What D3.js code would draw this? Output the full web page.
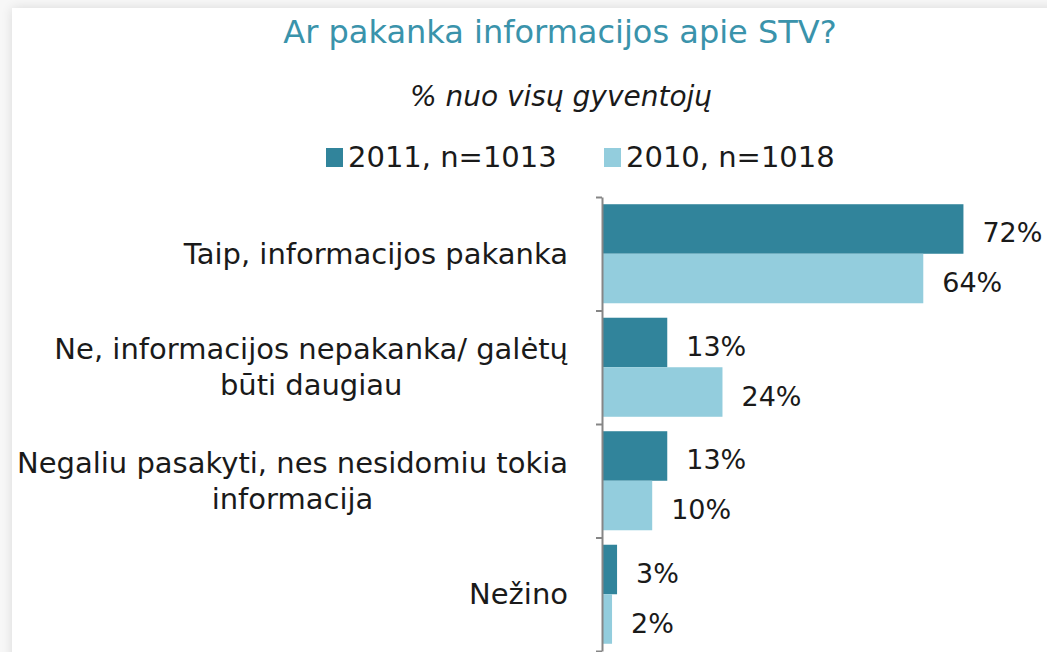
<!DOCTYPE html>
<html>
<head>
<meta charset="utf-8">
<title>Ar pakanka informacijos apie STV?</title>
<script src="https://d3js.org/d3.v7.min.js"></script>
<style>
  html, body { margin: 0; padding: 0; background: #fff; }
  svg { display: block; }
  text { font-family: "DejaVu Sans", sans-serif; fill: #1a1a1a; }
</style>
</head>
<body>
<svg id="chart"></svg>
<script>
// data
var categories = [
  ["Taip, informacijos pakanka"],
  ["Ne, informacijos nepakanka/ galėtų", "būti daugiau"],
  ["Negaliu pasakyti, nes nesidomiu tokia", "informacija"],
  ["Nežino"]
];
var seriesNames = ["2011, n=1013", "2010, n=1018"];
var values2011 = [72, 13, 13, 3];
var values2010 = [64, 24, 10, 2];
var colors = ["#31849b", "#93cddd"];

var W = 1047, H = 652;
var svg = d3.select('#chart').attr('width', W).attr('height', H);

// page shadow behind the white panel
var defs = svg.append('defs');
var f = defs.append('filter').attr('id', 'shadow').attr('x', '-5%').attr('y', '-5%').attr('width', '110%').attr('height', '110%');
f.append('feGaussianBlur').attr('in', 'SourceAlpha').attr('stdDeviation', 6);
f.append('feComponentTransfer').append('feFuncA').attr('type', 'linear').attr('slope', 0.12);
var fm = f.append('feMerge');
fm.append('feMergeNode');
fm.append('feMergeNode').attr('in', 'SourceGraphic');

svg.append('rect').attr('width', W).attr('height', H).attr('fill', '#f7f7f7');
svg.append('rect').attr('x', 12).attr('y', 8).attr('width', W + 40).attr('height', H + 40)
  .attr('fill', '#fff').attr('filter', 'url(#shadow)');

// titles
svg.append('text').attr('x', 560).attr('y', 43).attr('text-anchor', 'middle')
  .style('font-size', '32px').style('fill', '#3a93ab')
  .text('Ar pakanka informacijos apie STV?');
svg.append('text').attr('x', 561).attr('y', 106).attr('text-anchor', 'middle')
  .style('font-size', '28px').style('font-style', 'italic')
  .text('% nuo visų gyventojų');

// legend
var legendX = [326, 604];
seriesNames.forEach(function(s, i) {
  var g = svg.append('g').attr('transform', 'translate(' + legendX[i] + ',148)');
  g.append('rect').attr('width', 17).attr('height', 19).attr('fill', colors[i]);
  g.append('text').attr('x', 22).attr('y', 19).style('font-size', '29px').text(s);
});

// scales
var axisX = 602, plotTop = 197, plotBottom = 651;
var x = d3.scaleLinear().domain([0, 100]).range([axisX, axisX + 502]);
var idx = d3.range(categories.length);
var y = d3.scaleBand().domain(idx).range([plotTop, plotBottom]).padding(0);
var yInner = d3.scaleBand().domain([0, 1]).range([0, y.bandwidth()]).paddingInner(0).paddingOuter(0.146);
var yTicks = d3.scaleLinear().domain([0, categories.length]).range([plotTop, plotBottom]);

var series = [values2011, values2010];
var chart = svg.append('g');

series.forEach(function(vals, s) {
  chart.selectAll('rect.s' + s).data(vals).enter().append('rect')
    .attr('class', 's' + s)
    .attr('x', x(0))
    .attr('y', function(d, i) { return y(i) + yInner(s); })
    .attr('width', function(d) { return x(d) - x(0); })
    .attr('height', yInner.bandwidth())
    .attr('fill', colors[s]);

  chart.selectAll('text.v' + s).data(vals).enter().append('text')
    .attr('class', 'v' + s)
    .attr('x', function(d) { return x(d) + 19; })
    .attr('y', function(d, i) { return y(i) + yInner(s) + yInner.bandwidth() / 2 + 6; })
    .attr('dominant-baseline', 'middle')
    .style('font-size', '27px')
    .text(function(d) { return d + '%'; });
});

// category axis
var axis = svg.append('g').attr('transform', 'translate(' + axisX + ',0)')
  .call(d3.axisLeft(yTicks).tickValues(d3.range(categories.length + 1)).tickSize(6).tickSizeOuter(0).tickFormat(''));
axis.selectAll('line, path').attr('stroke', '#868686').attr('stroke-width', 2);

// category labels: lines centred on each other, block right-aligned
var labelRight = 568, lineH = 36;
categories.forEach(function(lines, i) {
  var g = svg.append('g');
  var t = g.selectAll('text').data(lines).enter().append('text')
    .style('font-size', '29px')
    .attr('text-anchor', 'middle')
    .attr('dominant-baseline', 'middle')
    .text(function(d) { return d; });
  var maxW = d3.max(t.nodes(), function(n) { return n.getComputedTextLength(); });
  var cy = y(i) + y.bandwidth() / 2 + 2;
  t.attr('x', labelRight - maxW / 2)
   .attr('y', function(d, j) { return cy + (j - (lines.length - 1) / 2) * lineH; });
});
</script>
</body>
</html>
